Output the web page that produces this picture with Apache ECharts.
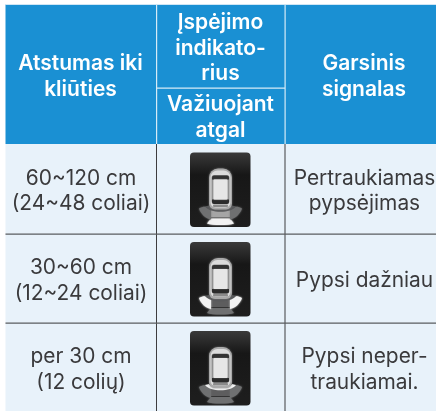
<!DOCTYPE html>
<html><head><meta charset="utf-8">
<style>html,body{margin:0;padding:0;background:#fff}#c{width:436px;height:411px}</style>
<script src="https://cdn.jsdelivr.net/npm/echarts@6/dist/echarts.min.js"></script>
</head><body><div id="c"></div>
<script>
const headerLeft = ['Atstumas iki','kliūties'];
const headerMiddleTop = ['Įspėjimo','indikato-','rius'];
const headerMiddleBottom = ['Važiuojant','atgal'];
const headerRight = ['Garsinis','signalas'];
const distances = [['60~120 cm','(24~48 coliai)'],['30~60 cm','(12~24 coliai)'],['per 30 cm','(12 colių)']];
const signals = [['Pertraukiamas','pypsėjimas'],['Pypsi dažniau'],['Pypsi neper-','traukiamai.']];
const litZones = ['outer','middle','inner'];

const X=[5.5,156,285,436], Y=[5,144,234,323,411], SPLIT=87.5;
const BLUE='#1a90d3', PALE='#e8f2fa', INK='#3a3a3c';
const LH=25.5;

function textBlock(lines,cx,cy,fill,weight,size,lh){
  const h=lh||LH;
  return lines.map((t,i)=>({type:'text',style:{text:t,x:cx,y:cy+(i-(lines.length-1)/2)*h,align:'center',verticalAlign:'middle',
    fill,font:`${weight} ${size}px Inter, "Noto Sans", sans-serif`}}));
}
function icon(x,y,lit){
  const on='#f2f2f2', off='#6f7071';
  const c=z=>lit===z?on:(z==='inner'?'#57585a':off);
  return {type:'group',x,y,children:[
    {type:'rect',shape:{x:0,y:0,width:60.5,height:74.5,r:4},style:{fill:{type:'linear',x:0,y:0,x2:0,y2:1,colorStops:[{offset:0,color:'#3a3a3a'},{offset:.3,color:'#171717'},{offset:1,color:'#1e1e1e'}]}}},
    {type:'path',shape:{pathData:'M21 66 L40 66 L44 71 C38 73 23 73 17 71 Z'},style:{fill:c('outer'),shadowBlur:2,shadowColor:c('outer')}},
    {type:'path',shape:{pathData:'M21 57 L40 57 L41 65 L20 65 Z'},style:{fill:lit==='outer'?'#a5a5a5':'#5d5d5e'}},
    {type:'path',shape:{pathData:'M9 56 C14 53 18 54 21 57 L21 67 C16 66 11 62 9 56 Z M52 56 C47 53 43 54 40 57 L40 67 C45 66 50 62 52 56 Z'},style:{fill:c('middle'),shadowBlur:2,shadowColor:c('middle')}},
    {type:'path',shape:{pathData:'M15 54 C20 61 41 61 46 54 L42 53 C38 58 23 58 19 53 Z'},style:{fill:c('inner')}},
    {type:'rect',shape:{x:19,y:16,width:23,height:41,r:[9,9,6,6]},style:{fill:'#a9a9a9',shadowBlur:2,shadowColor:'#777'}},
    {type:'rect',shape:{x:20.5,y:18,width:20,height:37,r:[7,7,5,5]},style:{fill:'#dcdcdc'}},
    {type:'rect',shape:{x:21.5,y:22.5,width:18,height:29,r:3},style:{fill:'#8f8f8f'}},
    {type:'rect',shape:{x:22,y:23,width:17,height:4,r:[2,2,0,0]},style:{fill:'#333'}},
    {type:'rect',shape:{x:22,y:47,width:17,height:4.5,r:[0,0,2,2]},style:{fill:'#2b2b2b'}},
    {type:'rect',shape:{x:23.5,y:27,width:14,height:20,r:1},style:{fill:'#e6e6e6',shadowBlur:1,shadowColor:'#bbb'}},
    {type:'rect',shape:{x:23,y:52,width:15,height:2.5,r:1},style:{fill:'#8a8a8a'}}
  ]};
}
const rows=[0,1,2];
const option={
  animation:false,
  grid:{left:0,right:0,top:0,bottom:0},
  xAxis:{type:'value',min:0,max:436,show:false},
  yAxis:{type:'value',min:0,max:411,inverse:true,show:false},
  series:[{
    type:'custom',coordinateSystem:'cartesian2d',silent:true,clip:false,
    data:[[0,0]],
    renderItem(params,api){
      const kids=[];
      const rect=(x,y,w,h,fill)=>kids.push({type:'rect',shape:{x,y,width:w,height:h},style:{fill}});
      const [ox,oy]=api.coord([0,0]);
      rect(5,4,431,1,'#cfe6f5');
      rect(X[0],Y[0],X[3]-X[0],Y[1]-Y[0],BLUE);
      rect(X[0],Y[1],X[3]-X[0],Y[4]-Y[1],PALE);
      rect(X[1],Y[0],1.2,Y[1]-Y[0],'#d6ebf7');
      rect(X[2]-.5,Y[0],1.2,Y[1]-Y[0],'#d6ebf7');
      rect(X[1],SPLIT,X[2]-X[1],1.2,'#d6ebf7');
      rect(X[1],Y[1],1,Y[4]-Y[1],'#3d3d3f');
      rect(X[2]-.5,Y[1],1,Y[4]-Y[1],'#3d3d3f');
      rect(X[0],Y[2]-.5,X[3]-X[0],1.2,'#5a5c5f');
      rect(X[0],Y[3]-.5,X[3]-X[0],1.2,'#5a5c5f');
      const W='#fff';
      const hs=21, bs=20.9;
      kids.push(...textBlock(headerLeft,80.5,76.5,W,600,hs));
      kids.push(...textBlock(headerMiddleTop,220.5,48.5,W,600,hs));
      kids.push(...textBlock(headerMiddleBottom,220.5,117.5,W,600,hs));
      kids.push(...textBlock(headerRight,364,76.5,W,600,hs));
      const iconY=[152.5,242,331];
      rows.forEach(i=>{
        kids.push(...textBlock(distances[i],81,[191,280.5,369.5][i],INK,400,bs));
        kids.push(...textBlock(signals[i],364.5,[191,281,369.5][i],INK,400,bs));
        kids.push(icon(190,iconY[i],litZones[i]));
      });
      return {type:'group',x:ox,y:oy,children:kids};
    }
  }]
};
const chart=echarts.init(document.getElementById('c'),null,{renderer:'canvas'});
chart.setOption(option);
</script></body></html>
